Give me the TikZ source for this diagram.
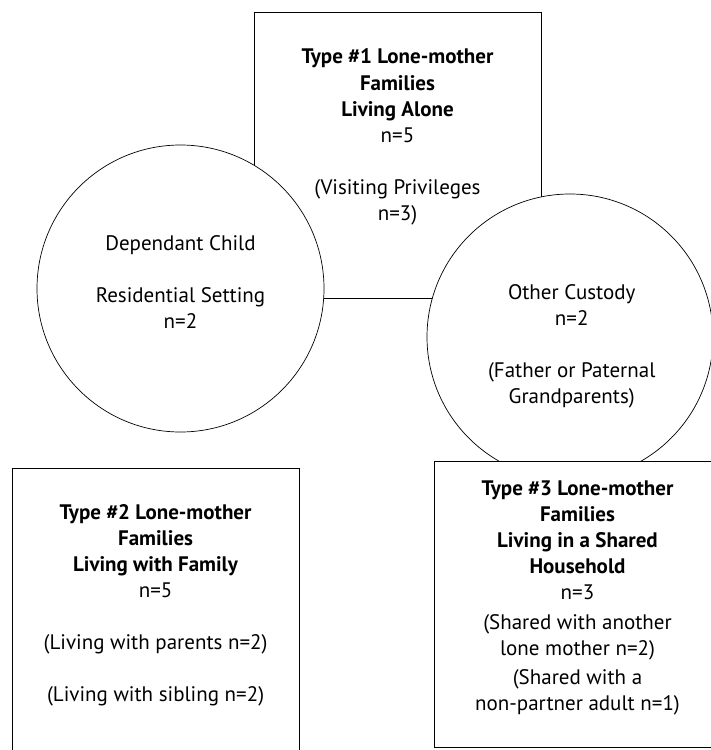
\documentclass[tikz,border=0pt]{standalone}
\usepackage{fontspec}
\setmainfont{PT Sans}
\begin{document}
\begin{tikzpicture}[x=1bp,y=-1bp,
    panel/.style={draw, fill=white, line width=0.9bp, inner sep=0pt, minimum width=287bp, minimum height=286bp},
    ring/.style={circle, draw, fill=white, line width=0.7bp, inner sep=0pt},
    label/.style={align=center, anchor=base, inner sep=0pt, font=\fontsize{21bp}{26bp}\selectfont}]
    % Fix the page size
    \useasboundingbox (0,0) rectangle (711,750);

    % Draw the type #1 box, the circles cover its lower part
    \node[panel] (typeone) at (397.5,155.7) {};
    \node[ring, minimum size=287bp] (child) at (180.5,288.5) {};
    \node[ring, minimum size=286bp] (custody) at (570,337) {};

    % Draw the other two boxes
    \node[panel] (typethree) at (578,604) {};
    \node[panel] (typetwo) at (155.8,611.2) {};

    % Texts (placed at the baseline of their last line)
    \node[label] (typeonetext) at (397.5,220) {\textbf{Type \#1 Lone-mother}\\\textbf{Families}\\\textbf{Living Alone}\\n=5\\[26bp](Visiting Privileges\\n=3)};
    \node[label] (childtext) at (180.5,328) {Dependant Child\\[26bp]Residential Setting\\n=2};
    \node[label] (custodytext) at (571.7,403) {Other Custody\\n=2\\[26bp](Father or Paternal\\Grandparents)};
    \node[label] (typetwotext) at (155.6,701) {\textbf{Type \#2 Lone-mother}\\\textbf{Families}\\\textbf{Living with Family}\\n=5\\[26bp](Living with parents n=2)\\[26bp](Living with sibling n=2)};
    \node[label] (typethreetext) at (577.5,710) {\textbf{Type \#3 Lone-mother}\\\textbf{Families}\\\textbf{Living in a Shared}\\\textbf{Household}\\n=3\\[4bp](Shared with another\\lone mother n=2)\\[3bp](Shared with a\\non-partner adult n=1)};
\end{tikzpicture}
\end{document}
